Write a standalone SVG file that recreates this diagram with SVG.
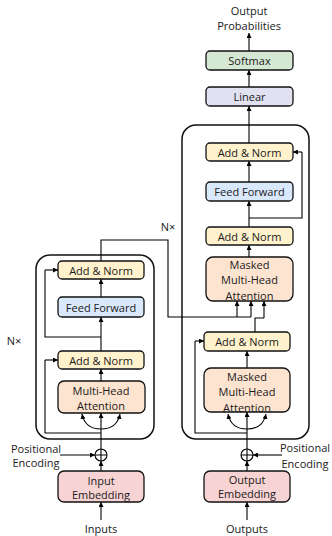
<svg xmlns="http://www.w3.org/2000/svg" width="332" height="536" viewBox="0 0 332 536">
  <defs>
    <marker id="ah" viewBox="0 0 10 10" refX="10" refY="5" markerWidth="5" markerHeight="5" markerUnits="userSpaceOnUse" orient="auto">
      <path d="M0,0 L10,5 L0,10 z" fill="#000"/>
    </marker>
    <style>
      text { font-family: "Open Sans", "Liberation Sans", Arial, sans-serif; font-size: 11px; fill: #1a1a1a; text-anchor: middle; dominant-baseline: central; }
      .box { stroke: #111; stroke-width: 1.3; }
      .stack { fill: none; stroke: #111; stroke-width: 1.5; }
      .norm { fill: #fff2cc; }
      .ff { fill: #dae8fc; }
      .att { fill: #fde4d0; }
      .emb { fill: #f8d3d4; }
      .soft { fill: #d5e8d4; }
      .lin { fill: #e1e1f2; }
      .wire { fill: none; stroke: #000; stroke-width: 1.1; }
      .arr { marker-end: url(#ah); }
    </style>
  </defs>

  <!-- repeated-layer frames -->
  <rect class="stack" x="36" y="255" width="118" height="184" rx="14"/>
  <rect class="stack" x="182" y="125" width="127" height="314" rx="14"/>
  <text x="14" y="340">N×</text>
  <text x="168" y="226">N×</text>

  <!-- connectors -->
  <g id="connectors">
    <!-- encoder -->
    <path class="wire arr" d="M101,520 V502"/>
    <path class="wire arr" d="M101,471 V461"/>
    <path class="wire arr" d="M60,455 H95"/>
    <path class="wire arr" d="M101,449 V413"/>
    <path class="wire arr" d="M101,429 C91,429 84,424 82,414"/>
    <path class="wire arr" d="M101,429 C111,429 118,424 120,414"/>
    <path class="wire" d="M101,433 H45 V360"/>
    <path class="wire arr" d="M45,360 H58"/>
    <path class="wire arr" d="M101,381 V369"/>
    <path class="wire arr" d="M101,351 V317"/>
    <path class="wire" d="M101,337 H45 V270"/>
    <path class="wire arr" d="M45,270 H58"/>
    <path class="wire arr" d="M101,297 V279"/>
    <!-- encoder output into decoder -->
    <path class="wire" d="M101,261 V240 H168 V317 H251"/>
    <path class="wire arr" d="M237,317 V301"/>
    <path class="wire arr" d="M251,317 V301"/>

    <!-- decoder -->
    <path class="wire arr" d="M247,520 V502"/>
    <path class="wire arr" d="M247,471 V461"/>
    <path class="wire arr" d="M282,455 H253"/>
    <path class="wire arr" d="M247,449 V412"/>
    <path class="wire arr" d="M247,429 C237,429 230,424 228,414"/>
    <path class="wire arr" d="M247,429 C257,429 264,424 266,414"/>
    <path class="wire" d="M247,433 H195 V341"/>
    <path class="wire arr" d="M195,341 H204"/>
    <path class="wire arr" d="M247,368 V351"/>
    <path class="wire" d="M255,332 V318 H264"/>
    <path class="wire arr" d="M264,318 V301"/>
    <path class="wire arr" d="M249,257 V245"/>
    <path class="wire arr" d="M249,227 V201"/>
    <path class="wire" d="M249,218 H302 V152"/>
    <path class="wire arr" d="M302,152 H293"/>
    <path class="wire arr" d="M249,182 V161"/>
    <path class="wire arr" d="M249,143 V106"/>
    <path class="wire arr" d="M249,87 V70"/>
    <path class="wire arr" d="M249,51 V33"/>
  </g>

  <!-- encoder -->
  <g id="enc-add-norm-2"><rect class="box norm" x="58" y="261" width="86" height="18" rx="4"/><text x="101" y="270">Add &amp; Norm</text></g>
  <g id="enc-feed-forward"><rect class="box ff" x="58" y="297" width="86" height="20" rx="4"/><text x="101" y="307">Feed Forward</text></g>
  <g id="enc-add-norm-1"><rect class="box norm" x="58" y="351" width="86" height="18" rx="4"/><text x="101" y="360">Add &amp; Norm</text></g>
  <g id="enc-attention"><rect class="box att" x="58" y="381" width="87" height="32" rx="6"/><text x="101" y="390">Multi-Head</text><text x="101" y="405">Attention</text></g>
  <g id="enc-sum"><circle cx="101" cy="455" r="6" fill="#fff" stroke="#000" stroke-width="1.1"/><path d="M95,455 H107 M101,449 V461" stroke="#000" stroke-width="1.1"/></g>
  <g id="input-embedding"><rect class="box emb" x="58" y="471" width="86" height="31" rx="6"/><text x="101" y="480">Input</text><text x="101" y="494">Embedding</text></g>
  <g id="enc-pos"><text x="36" y="448">Positional</text><text x="36" y="462">Encoding</text></g>
  <g id="inputs"><text x="101" y="528">Inputs</text></g>

  <!-- decoder -->
  <g id="output-probs"><text x="249" y="10">Output</text><text x="249" y="25">Probabilities</text></g>
  <g id="softmax"><rect class="box soft" x="206" y="51" width="87" height="19" rx="4"/><text x="249.5" y="60.5">Softmax</text></g>
  <g id="linear"><rect class="box lin" x="206" y="87" width="87" height="19" rx="4"/><text x="249.5" y="96.5">Linear</text></g>
  <g id="dec-add-norm-3"><rect class="box norm" x="206" y="143" width="87" height="18" rx="4"/><text x="249.5" y="152">Add &amp; Norm</text></g>
  <g id="dec-feed-forward"><rect class="box ff" x="206" y="182" width="87" height="19" rx="4"/><text x="249.5" y="191.5">Feed Forward</text></g>
  <g id="dec-add-norm-2"><rect class="box norm" x="206" y="227" width="87" height="18" rx="4"/><text x="249.5" y="236">Add &amp; Norm</text></g>
  <g id="dec-cross-attention"><rect class="box att" x="206" y="257" width="87" height="44" rx="7"/><text x="249.5" y="264">Masked</text><text x="249.5" y="279">Multi-Head</text><text x="249.5" y="295">Attention</text></g>
  <g id="dec-add-norm-1"><rect class="box norm" x="204" y="332" width="86" height="19" rx="4"/><text x="247" y="341.5">Add &amp; Norm</text></g>
  <g id="dec-self-attention"><rect class="box att" x="204" y="368" width="86" height="44" rx="7"/><text x="247" y="376">Masked</text><text x="247" y="391">Multi-Head</text><text x="247" y="407">Attention</text></g>
  <g id="dec-sum"><circle cx="247" cy="455" r="6" fill="#fff" stroke="#000" stroke-width="1.1"/><path d="M241,455 H253 M247,449 V461" stroke="#000" stroke-width="1.1"/></g>
  <g id="output-embedding"><rect class="box emb" x="204" y="471" width="86" height="31" rx="6"/><text x="247" y="479">Output</text><text x="247" y="493">Embedding</text></g>
  <g id="dec-pos"><text x="305" y="447">Positional</text><text x="305" y="463">Encoding</text></g>
  <g id="outputs"><text x="247" y="528">Outputs</text></g>
</svg>
